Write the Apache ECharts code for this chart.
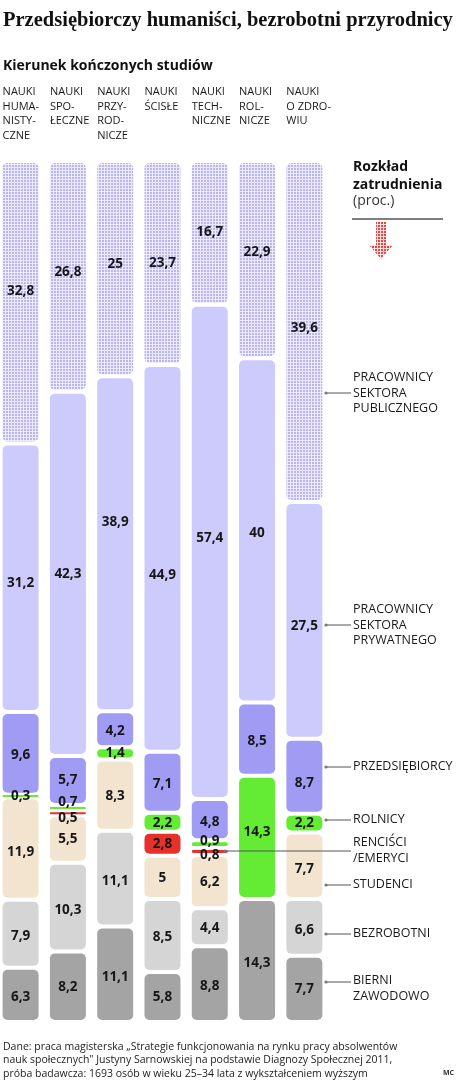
<!DOCTYPE html>
<html>
<head>
<meta charset="utf-8">
<script src="https://cdn.jsdelivr.net/npm/echarts@6/dist/echarts.min.js"></script>
<style>
html,body{margin:0;padding:0;background:#fff;}
#c{width:466px;height:1090px;}
</style>
</head>
<body>
<div id="c"></div>
<script>
// ---------- DATA ----------
const categories = ['NAUKI\nHUMA-\nNISTY-\nCZNE', 'NAUKI\nSPO-\nŁECZNE', 'NAUKI\nPRZY-\nROD-\nNICZE', 'NAUKI\nŚCISŁE', 'NAUKI\nTECH-\nNICZNE', 'NAUKI\nROL-\nNICZE', 'NAUKI\nO ZDRO-\nWIU'];
const seriesNames = ['PRACOWNICY\nSEKTORA\nPUBLICZNEGO', 'PRACOWNICY\nSEKTORA\nPRYWATNEGO', 'PRZEDSIĘBIORCY', 'ROLNICY', 'RENCIŚCI\n/EMERYCI', 'STUDENCI', 'BEZROBOTNI', 'BIERNI\nZAWODOWO'];
const publicSector  = [32.8, 26.8, 25, 23.7, 16.7, 22.9, 39.6];
const privateSector = [31.2, 42.3, 38.9, 44.9, 57.4, 40, 27.5];
const entrepreneurs = [9.6, 5.7, 4.2, 7.1, 4.8, 8.5, 8.7];
const farmers       = [0.3, 0.7, 1.4, 2.2, 0.9, 14.3, 2.2];
const pensioners    = [0, 0.5, 0, 2.8, 0.8, 0, 0];
const students      = [11.9, 5.5, 8.3, 5, 6.2, 0, 7.7];
const unemployed    = [7.9, 10.3, 11.1, 8.5, 4.4, 0, 6.6];
const inactive      = [6.3, 8.2, 11.1, 5.8, 8.8, 14.3, 7.7];
const allSeries = [publicSector, privateSector, entrepreneurs, farmers, pensioners, students, unemployed, inactive];

const titleText = 'Przedsiębiorczy humaniści, bezrobotni przyrodnicy';
const subtitleText = 'Kierunek kończonych studiów';
const unitText = ['Rozkład', 'zatrudnienia', '(proc.)'];
const footerText = 'Dane: praca magisterska „Strategie funkcjonowania na rynku pracy absolwentów\nnauk społecznych" Justyny Sarnowskiej na podstawie Diagnozy Społecznej 2011,\npróba badawcza: 1693 osób w wieku 25–34 lata z wykształceniem wyższym';
const signText = 'MC';

// ---------- STYLE ----------
function dotPattern(bg, dot) {
  const cv = document.createElement('canvas');
  cv.width = 3; cv.height = 3;
  const ctx = cv.getContext('2d');
  ctx.fillStyle = bg; ctx.fillRect(0, 0, 3, 3);
  ctx.fillStyle = dot; ctx.fillRect(0, 0, 2, 2);
  return {image: cv, repeat: 'repeat'};
}
const publicFill = dotPattern('#eceafc', '#b9b6f2');
const arrowFill = dotPattern('#fde3e3', '#ea4640');
const colors = [publicFill, '#cdcbfb', '#a09cf4', '#63ec33', '#e8302a', '#f3e4d0', '#d5d5d5', '#a4a4a4'];
// label vertical nudges (px), per series per column
const labelNudge = [
  [-11, -4, -4, 0, -1, -7, -3],
  [5, 0, -22, 17, -14, 3, 6],
  [2, 0, 2, 2, 2, 2, 7],
  [0, -6, 0, 1, -3, -5, 0],
  [0, 5, 0, 0, 4, 0, 0],
  [4, 0, 1, 1, 0, 0, 3],
  [2, 3, 3, 2, 1, 0, 3],
  [2, 0, 3, 0, 2, 3, 0]
];
const BAR_W = 36, GAP = 2;
const FONT = '"Open Sans", "Noto Sans", sans-serif';

// cumulative starts
const starts = allSeries.map(() => []);
for (let c = 0; c < categories.length; c++) {
  let acc = 0;
  for (let s = 0; s < allSeries.length; s++) {
    starts[s][c] = acc;
    acc += allSeries[s][c];
  }
}
function fmt(v) { return String(v).replace('.', ','); }

const series = allSeries.map((vals, s) => ({
  type: 'custom',
  name: seriesNames[s],
  silent: true,
  data: vals.map((v, c) => [c, starts[s][c], starts[s][c] + v, v]),
  renderItem: function (params, api) {
    const c = api.value(0), v = api.value(3);
    if (!v) return null;
    const p0 = api.coord([c, api.value(1)]);
    const p1 = api.coord([c, api.value(2)]);
    let top = p0[1] + GAP, bot = p1[1] - GAP;
    if (bot - top < 2) { const m = (p0[1] + p1[1]) / 2; top = m - 1; bot = m + 1; }
    const h = bot - top;
    const r = Math.min(5, h / 2);
    const mid = (p0[1] + p1[1]) / 2 + labelNudge[s][c];
    return {
      type: 'group',
      children: [
        {type: 'rect', shape: {x: p0[0] - BAR_W / 2, y: top, width: BAR_W, height: h, r: r}, style: {fill: colors[s]}},
        {type: 'text', x: p0[0], y: mid, z2: 10, style: {text: fmt(v), fill: '#161616', font: 'bold 13.5px ' + FONT, align: 'center', verticalAlign: 'middle'}}
      ]
    };
  }
}));

// ---------- LEGEND GRAPHICS ----------
const legendY = [393, 625, 767, 820, 851, 885, 934, 982];
const legendTextTop = [370, 602, 759, 812, 835, 877, 926, 973];
function buildGraphics(chart) {
  const g = [];
  seriesNames.forEach((name, i) => {
    const x0 = i === 4 ? 225 : 326;
    g.push({type: 'line', shape: {x1: x0, y1: legendY[i], x2: 351, y2: legendY[i]}, style: {stroke: '#555', lineWidth: 1}, z: 50});
    g.push({type: 'circle', shape: {cx: x0, cy: legendY[i], r: 1.6}, style: {fill: '#777'}, z: 51});
    g.push({type: 'text', x: 353, y: legendTextTop[i], style: {text: name, fill: '#1a1a1a', font: '12.5px ' + FONT, lineHeight: 15.5, verticalAlign: 'top'}, z: 50});
  });
  categories.forEach((name, c) => {
    const cx = chart.convertToPixel({xAxisIndex: 0}, c);
    g.push({type: 'text', x: cx - BAR_W / 2, y: 85, style: {text: name, fill: '#1a1a1a', font: '11px ' + FONT, lineHeight: 14.5, verticalAlign: 'top'}});
  });
  g.push(
    {type: 'text', x: 3, y: 10, style: {text: titleText, fill: '#111', font: 'bold 20.5px "Liberation Serif", "DejaVu Serif", serif', verticalAlign: 'top'}},
    {type: 'text', x: 3, y: 59, style: {text: subtitleText, fill: '#111', font: 'bold 14px ' + FONT, verticalAlign: 'top'}},
    {type: 'text', x: 353, y: 158, style: {text: unitText[0] + '\n' + unitText[1], fill: '#111', font: 'bold 14px ' + FONT, lineHeight: 18, verticalAlign: 'top'}},
    {type: 'text', x: 353, y: 194, style: {text: unitText[2], fill: '#333', font: '14px ' + FONT, verticalAlign: 'top'}},
    {type: 'line', shape: {x1: 352, y1: 219, x2: 443, y2: 219}, style: {stroke: '#555', lineWidth: 1.5}},
    {type: 'polygon', shape: {points: [[376, 222], [386, 222], [386, 245], [393, 245], [381, 259], [369, 245], [376, 245]]}, style: {fill: arrowFill}},
    {type: 'text', x: 3, y: 1040, style: {text: footerText, fill: '#222', font: '10.5px ' + FONT, lineHeight: 13.5, verticalAlign: 'top'}},
    {type: 'text', x: 443, y: 1069, style: {text: signText, fill: '#333', font: 'bold 7px ' + FONT, verticalAlign: 'top'}}
  );
  return g;
}

const chart = echarts.init(document.getElementById('c'), null, {renderer: 'canvas'});
chart.setOption({
  animation: false,
  backgroundColor: '#fff',
  grid: {left: 0, width: 328, top: 161, height: 861},
  xAxis: {type: 'value', min: -0.4355, max: 6.5, show: false},
  yAxis: {type: 'value', min: 0, max: 100, inverse: true, show: false},
  series: series
});
chart.setOption({graphic: buildGraphics(chart)});
</script>
</body>
</html>
